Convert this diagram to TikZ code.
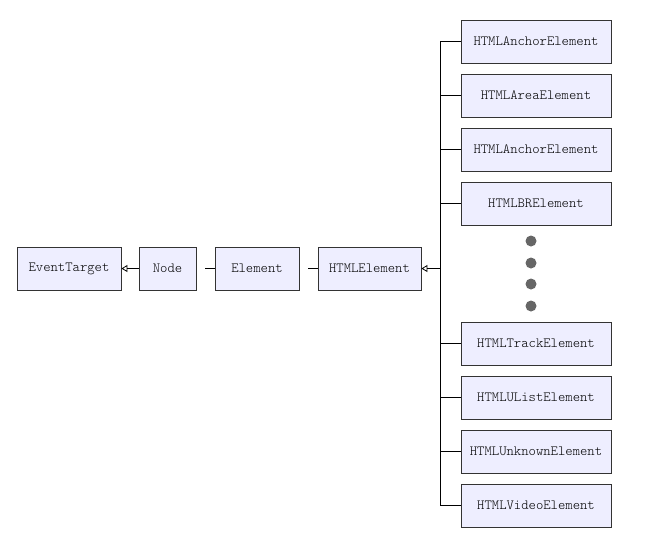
\documentclass[tikz,border=0pt]{standalone}
\usepackage{fontspec}
\newfontfamily\classfont{Latin Modern Mono Light}
\usetikzlibrary{arrows.meta}
\definecolor{boxfill}{HTML}{EEEEFF}
\definecolor{boxline}{HTML}{333333}
\definecolor{dotgray}{HTML}{666666}
\tikzset{
  cls/.style={draw=boxline, line width=0.8pt, fill=boxfill, minimum height=43pt,
    inner sep=0pt, font=\classfont\fontsize{14}{14}\selectfont},
  leftcls/.style={cls},
  rightcls/.style={cls, minimum width=150pt},
  link/.style={draw=black, line width=0.8pt},
  inherit/.style={link, -{Triangle[open, length=6pt, width=7pt]}},
}
\begin{document}
\begin{tikzpicture}[x=1pt, y=-1pt]
  \useasboundingbox (0,0) rectangle (660,544);

  % base chain
  \node[leftcls, minimum width=104pt] (et) at (69,268.5) {EventTarget};
  \node[leftcls, minimum width=57pt] (nd) at (167.5,268.5) {Node};
  \node[leftcls, minimum width=84pt] (el) at (257,268.5) {Element};
  \node[leftcls, minimum width=103pt] (he) at (369.5,268.5) {HTMLElement};

  % subclasses
  \node[rightcls] (s1) at (536,41.5) {HTMLAnchorElement};
  \node[rightcls] (s2) at (536,95.5) {HTMLAreaElement};
  \node[rightcls] (s3) at (536,149.5) {HTMLAnchorElement};
  \node[rightcls] (s4) at (536,203.5) {HTMLBRElement};
  \node[rightcls] (s5) at (536,343.5) {HTMLTrackElement};
  \node[rightcls] (s6) at (536,397.5) {HTMLUListElement};
  \node[rightcls] (s7) at (536,451.5) {HTMLUnknownElement};
  \node[rightcls] (s8) at (536,505.5) {HTMLVideoElement};

  % ellipsis between the two groups
  \foreach \y/\n in {241/d1, 263/d2, 284/d3, 306/d4}
    \fill[dotgray] (531,\y) circle (5.5pt) coordinate (\n);

  % inheritance links
  \draw[inherit] (nd.west) -- (et.east);
  \coordinate (ne) at (205,268.5);
  \coordinate (eh) at (308,268.5);
  \draw[link] (ne) -- (el.west);
  \draw[link] (eh) -- (he.west);

  \coordinate (bustop) at (440,41.5);
  \coordinate (busbot) at (440,505.5);
  \coordinate (busmid) at (440,268.5);
  \draw[link] (bustop) -- (busbot);
  \draw[inherit] (busmid) -- (he.east);
  \foreach \s in {s1,s2,s3,s4,s5,s6,s7,s8}
    \draw[link] (\s.west) -- (\s.west -| busmid);
\end{tikzpicture}
\end{document}
